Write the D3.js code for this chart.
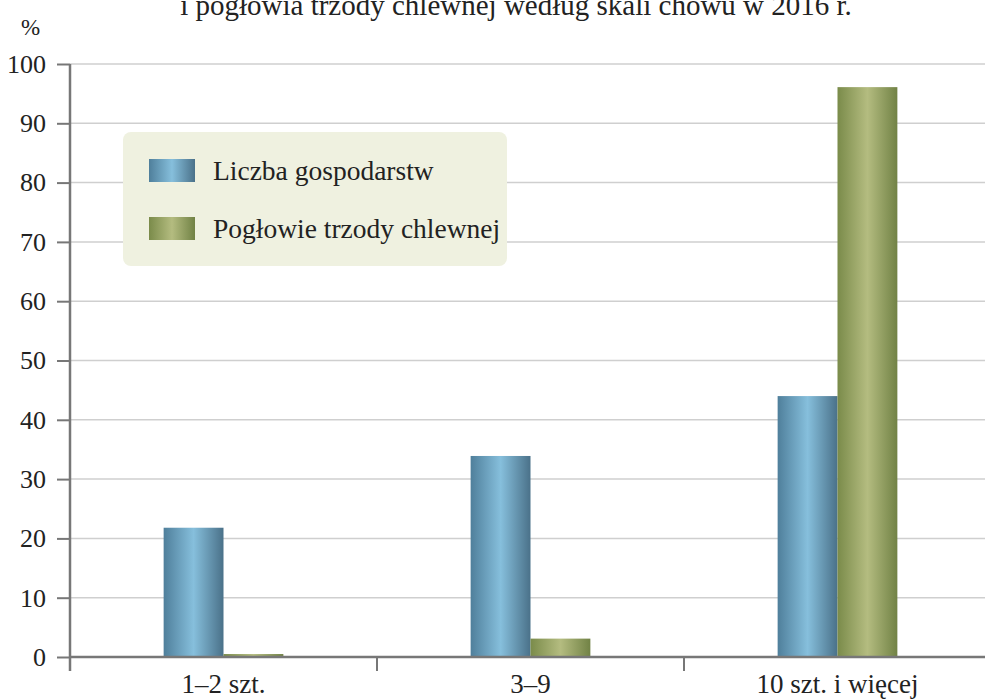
<!DOCTYPE html>
<html>
<head>
<meta charset="utf-8">
<script src="https://cdn.jsdelivr.net/npm/d3@7"></script>
<style>
  body { margin: 0; background: #fff; }
  svg text { font-family: "Times New Roman", Times, "Liberation Serif", "DejaVu Serif", serif !important; fill: #222; }
</style>
</head>
<body>
<div id="chart"></div>
<script>
// Chart data
const categories = ["1\u20132 szt.", "3\u20139", "10 szt. i wi\u0119cej"];
const seriesNames = ["Liczba gospodarstw", "Pog\u0142owie trzody chlewnej"];
const farms = [21.8, 33.9, 44.0];
const pigs = [0.5, 3.1, 96.1];
const yTicks = [0, 10, 20, 30, 40, 50, 60, 70, 80, 90, 100];
const title = "i pog\u0142owia trzody chlewnej wed\u0142ug skali chowu w 2016 r.";

const W = 985, H = 700;
const margin = {top: 64, left: 70, bottom: 43};
const plotRight = 991;

const svg = d3.select("#chart").append("svg")
  .attr("width", W)
  .attr("height", H);

// Gradients for the shaded bars
const defs = svg.append("defs");
function addGradient(id, dark, light, dark2) {
  const g = defs.append("linearGradient").attr("id", id)
    .attr("x1", "0%").attr("x2", "100%").attr("y1", "0%").attr("y2", "0%");
  g.append("stop").attr("offset", "0%").attr("stop-color", dark);
  g.append("stop").attr("offset", "50%").attr("stop-color", light);
  g.append("stop").attr("offset", "100%").attr("stop-color", dark2);
}
addGradient("gradBlue", "#4f7f9b", "#86bfdc", "#4a7189");
addGradient("gradGreen", "#7a8b4a", "#b4bc80", "#718245");
const fills = ["url(#gradBlue)", "url(#gradGreen)"];

// Scales
const x0 = d3.scaleBand()
  .domain(categories)
  .range([margin.left, plotRight])
  .padding(0);

const bw = x0.bandwidth();
const x1 = d3.scaleBand()
  .domain(seriesNames)
  .range([bw * 0.305, bw * 0.695])
  .padding(0);

const y = d3.scaleLinear()
  .domain([0, 100])
  .range([H - margin.bottom, margin.top]);

// Gridlines
svg.append("g")
  .selectAll("line")
  .data(yTicks.filter(d => d > 0))
  .enter()
  .append("line")
  .attr("x1", margin.left)
  .attr("x2", W)
  .attr("y1", d => y(d))
  .attr("y2", d => y(d))
  .attr("stroke", "#cfcfcf")
  .attr("stroke-width", 1.5);

// Bars
const rows = categories.map((c, i) => ({cat: c, values: [farms[i], pigs[i]]}));
const groups = svg.append("g")
  .selectAll("g")
  .data(rows)
  .enter()
  .append("g")
  .attr("transform", d => `translate(${x0(d.cat)},0)`);

groups.selectAll("rect")
  .data(d => d.values.map((v, j) => ({series: seriesNames[j], value: v, j: j})))
  .enter()
  .append("rect")
  .attr("x", d => x1(d.series))
  .attr("width", x1.bandwidth())
  .attr("y", d => y(d.value))
  .attr("height", d => y(0) - y(d.value))
  .attr("fill", d => fills[d.j]);

// Left axis
const yAxis = svg.append("g")
  .attr("transform", `translate(${margin.left},0)`)
  .call(d3.axisLeft(y).tickValues(yTicks).tickSize(13).tickPadding(11));
yAxis.select(".domain").remove();
yAxis.selectAll(".tick line").attr("stroke", "#777").attr("stroke-width", 2);
yAxis.selectAll(".tick text")
  .attr("font-size", "26px")
  .attr("fill", "#222");
yAxis.append("line")
  .attr("x1", 0).attr("x2", 0)
  .attr("y1", y(100)).attr("y2", y(0) + 14)
  .attr("stroke", "#777").attr("stroke-width", 2.5);

// Bottom axis
svg.append("line")
  .attr("x1", margin.left).attr("x2", W)
  .attr("y1", y(0)).attr("y2", y(0))
  .attr("stroke", "#777").attr("stroke-width", 2.5);

svg.append("g")
  .selectAll("line")
  .data(categories.slice(1))
  .enter()
  .append("line")
  .attr("x1", d => x0(d)).attr("x2", d => x0(d))
  .attr("y1", y(0)).attr("y2", y(0) + 14)
  .attr("stroke", "#777").attr("stroke-width", 2);

svg.append("g")
  .selectAll("text")
  .data(categories)
  .enter()
  .append("text")
  .attr("x", d => x0(d) + bw / 2)
  .attr("y", 693)
  .attr("text-anchor", "middle")
  .attr("font-size", "27px")
  .text(d => d);

// Title (cropped at the top in the original) and unit
svg.append("text")
  .attr("x", 516)
  .attr("y", 15)
  .attr("text-anchor", "middle")
  .attr("font-size", "29px")
  .text(title);

svg.append("text")
  .attr("x", 21)
  .attr("y", 35)
  .attr("font-size", "23px")
  .text("%");

// Legend
const legend = svg.append("g").attr("transform", "translate(123,132)");
legend.append("rect")
  .attr("width", 384)
  .attr("height", 134)
  .attr("rx", 8)
  .attr("fill", "#eff1e0");

legend.selectAll(".swatch")
  .data(seriesNames)
  .enter()
  .append("rect")
  .attr("class", "swatch")
  .attr("x", 26)
  .attr("y", (d, i) => 27 + i * 58)
  .attr("width", 46)
  .attr("height", 23)
  .attr("fill", (d, i) => fills[i]);

legend.selectAll(".label")
  .data(seriesNames)
  .enter()
  .append("text")
  .attr("class", "label")
  .attr("x", 90)
  .attr("y", (d, i) => 48 + i * 58)
  .attr("font-size", "27.5px")
  .text(d => d);
</script>
</body>
</html>
